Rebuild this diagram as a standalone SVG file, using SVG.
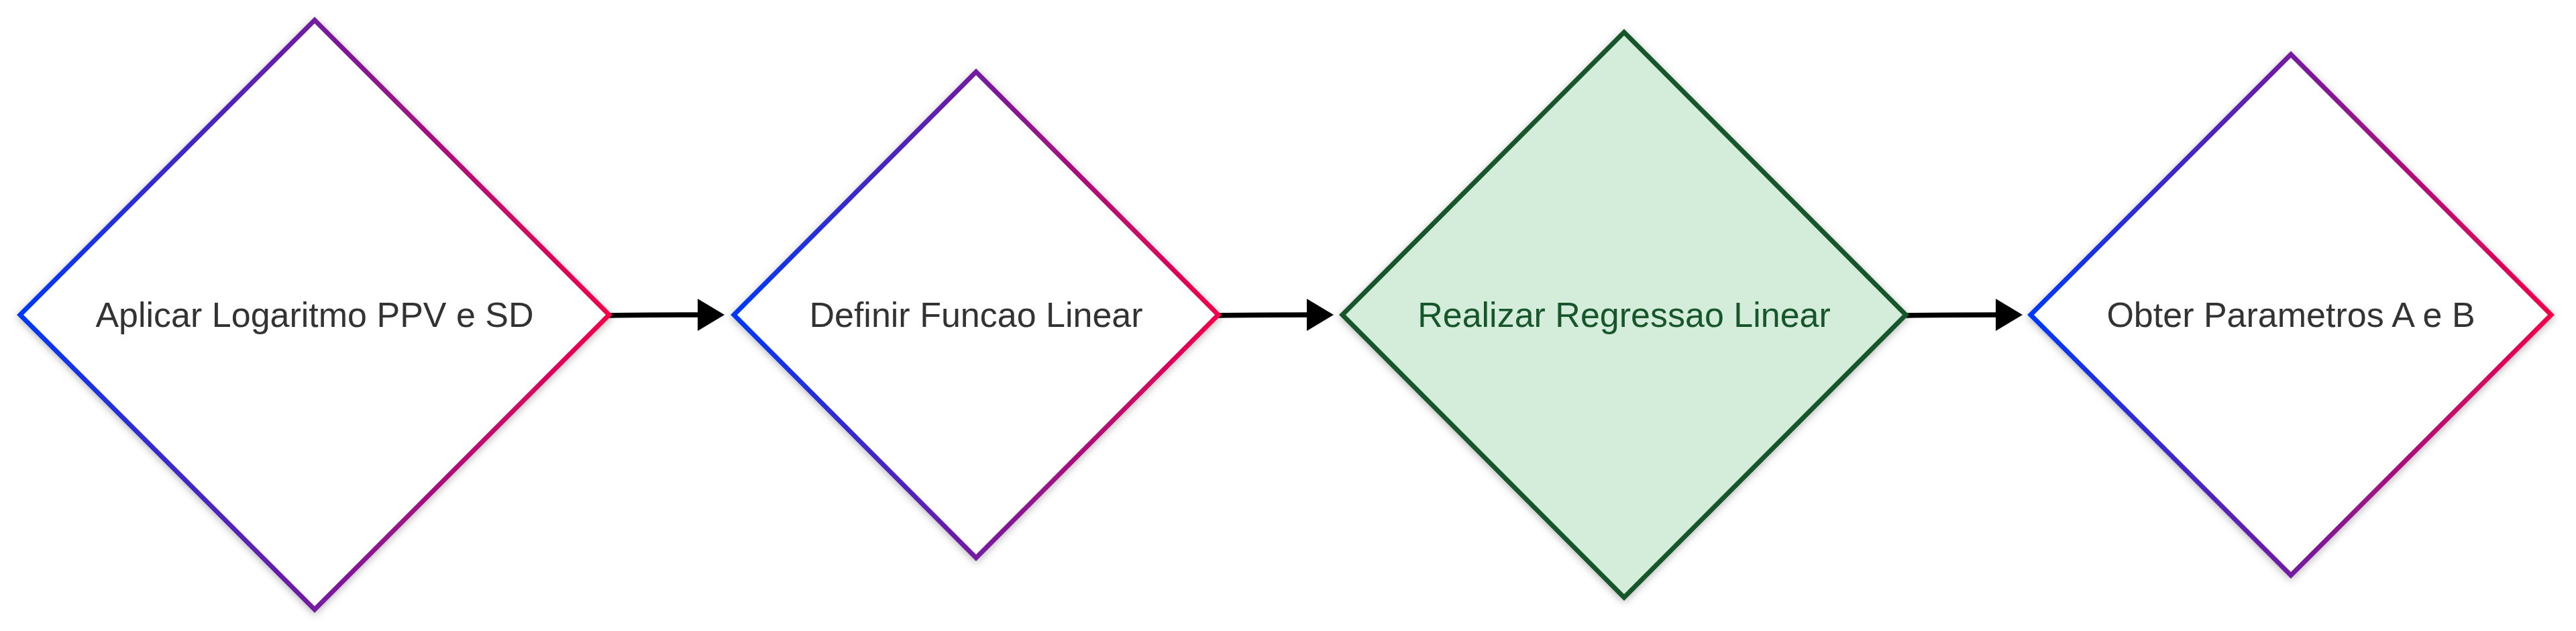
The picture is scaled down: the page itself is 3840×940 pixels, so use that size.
<svg xmlns="http://www.w3.org/2000/svg" width="3840" height="940" viewBox="0 0 3840 940">
<style>
.node{stroke-width:7;stroke-linejoin:miter;filter:url(#sh)}
.grad{fill:#ffffff;stroke:url(#g)}
.green{fill:#d4ecda;stroke:#17562a}
.lbl{font-family:"Liberation Sans",Arial,sans-serif;font-size:52px;text-anchor:middle;fill:#333333}
.lblg{fill:#17562a}
.edge{fill:none;stroke:#000000;stroke-width:7.5;marker-end:url(#arr)}
</style>
<defs>
<linearGradient id="g" x1="0" y1="0" x2="1" y2="0">
<stop offset="0" stop-color="#0039f5"/>
<stop offset="0.5" stop-color="#731ba0"/>
<stop offset="1" stop-color="#f2004a"/>
</linearGradient>
<filter id="sh" x="-10%" y="-10%" width="120%" height="120%">
<feDropShadow dx="0" dy="3" stdDeviation="6" flood-color="#000000" flood-opacity="0.28"/>
</filter>
<marker id="arr" markerUnits="userSpaceOnUse" markerWidth="42" markerHeight="48" refX="2" refY="24" orient="auto" viewBox="0 0 42 48">
<path d="M0,0 L40,24 L0,48 Z" fill="#000000"/>
</marker>
</defs>
<g id="edges">
<path class="edge" d="M908,470 C950,469 990,469 1042,469" />
<path class="edge" d="M1815,470 C1857,469 1897,469 1950,469" />
<path class="edge" d="M2841,470 C2883,469 2923,469 2977,469" />
</g>
<g id="node1">
<polygon class="node grad" points="469,30 908,469 469,908 30,469"/>
<text class="lbl" x="469" y="487">Aplicar Logaritmo PPV e SD</text>
</g>
<g id="node2">
<polygon class="node grad" points="1455,107 1816,469 1455,831 1094,469"/>
<text class="lbl" x="1455" y="487">Definir Funcao Linear</text>
</g>
<g id="node3">
<polygon class="node green" points="2421,48 2841,469 2421,890 2001,469"/>
<text class="lbl lblg" x="2421" y="487">Realizar Regressao Linear</text>
</g>
<g id="node4">
<polygon class="node grad" points="3415,81 3803,469 3415,857 3027,469"/>
<text class="lbl" x="3415" y="487">Obter Parametros A e B</text>
</g>
</svg>
